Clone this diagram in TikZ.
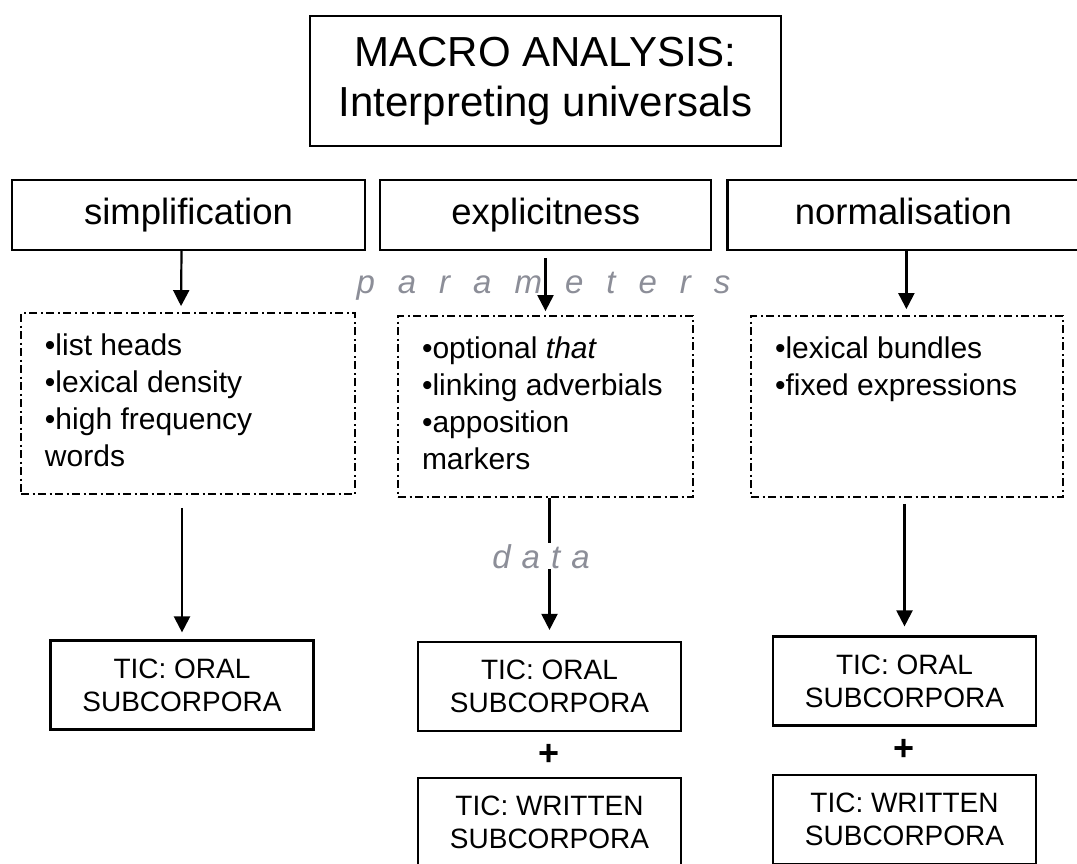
\documentclass[tikz,border=0pt]{standalone}
\usepackage{fontspec}
\setmainfont{Liberation Sans}
\usetikzlibrary{positioning, arrows.meta}

\definecolor{lblgray}{RGB}{140,142,152}
\newcommand{\fsz}[2]{\fontsize{#1}{#2}\selectfont}
\newcommand{\lst}[2]{\parbox[c][139pt][t]{#1}{\raggedright #2}}

\begin{document}
\begin{tikzpicture}[
    x=1pt, y=-1pt,
    title/.style={draw, line width=2.2pt, minimum width=471pt, minimum height=130pt, align=center, font=\fsz{42}{50}},
    cat/.style={draw, line width=2.2pt, minimum height=70pt, text height=27pt, text depth=8pt, font=\fsz{36.5}{42}},
    lstbox/.style={draw, line width=1.8pt, dash pattern=on 8pt off 3.5pt on 2pt off 3.5pt, inner xsep=24pt, inner ysep=21pt, font=\fsz{30}{37}},
    corp/.style={draw, line width=2.2pt, minimum width=263pt, minimum height=89pt, align=center, font=\fsz{28}{33}},
    plus/.style={font=\fsz{36}{36}\bfseries},
    arrow/.style={-{Triangle[length=16pt, width=16pt]}, line width=2.2pt},
    lbl/.style={text=lblgray, font=\fsz{33}{33}\itshape, anchor=base}
]
\useasboundingbox (0,0) rectangle (1077,863);

% Title and the three universals
\node[title] (macro) at (545.5,81) {MACRO ANALYSIS:\\Interpreting universals};
\node[cat, minimum width=353pt] (simp) at (188.5,215) {simplification};
\node[cat, minimum width=331pt, right=13pt of simp] (expl) {explicitness};
\node[cat, minimum width=352pt, right=14pt of expl] (norm) {normalisation};

% Parameters
\node[lstbox] (simplist) at (188,403.5) {\lst{286pt}{•list heads\\•lexical density\\•high frequency\\words}};
\node[lstbox] (expllist) at (545.5,406.5) {\lst{247pt}{•optional \textit{that}\\•linking adverbials\\•apposition\\markers}};
\node[lstbox] (normlist) at (907,406.5) {\lst{264pt}{•lexical bundles\\•fixed expressions}};

% Data
\node[corp] (simpdata) at (182,685) {TIC: ORAL\\SUBCORPORA};
\node[corp] (oral2) at (549.5,686.5) {TIC: ORAL\\SUBCORPORA};
\node[corp, below=45pt of oral2] (written2) {TIC: WRITTEN\\SUBCORPORA};
\node[corp] (oral3) at (904.5,681) {TIC: ORAL\\SUBCORPORA};
\node[corp, below=47pt of oral3] (written3) {TIC: WRITTEN\\SUBCORPORA};
\path (oral2.south) -- node[plus] (plus2) {+} (written2.north);
\path (oral3.south) -- node[plus] (plus3) {+} (written3.north);

\node[lbl] (params) at (543.5,293) {\spaceskip=23pt\relax p a r a m e t e r s};

% Arrows down
\draw[arrow, shorten >=6pt] ([xshift=-7pt]simp.south) -- ([xshift=-7pt]simplist.north);
\draw[arrow, shorten <=7pt, shorten >=4pt] (expllist.north |- expl.south) -- (expllist.north);
\draw[arrow, shorten >=6pt] ([xshift=3pt]norm.south) -- ([xshift=3pt]norm.south |- normlist.north);
\draw[arrow, shorten <=13pt, shorten >=7pt] (simpdata.north |- simplist.south) -- (simpdata.north);
\draw[arrow, shorten >=11pt] (oral2.north |- expllist.south) -- (oral2.north);
\draw[arrow, shorten <=6pt, shorten >=9pt] (oral3.north |- normlist.south) -- (oral3.north);

\node[lbl, fill=white, inner sep=1pt] (datalbl) at (541,568) {\spaceskip=11pt\relax d a t a};

\end{tikzpicture}
\end{document}
